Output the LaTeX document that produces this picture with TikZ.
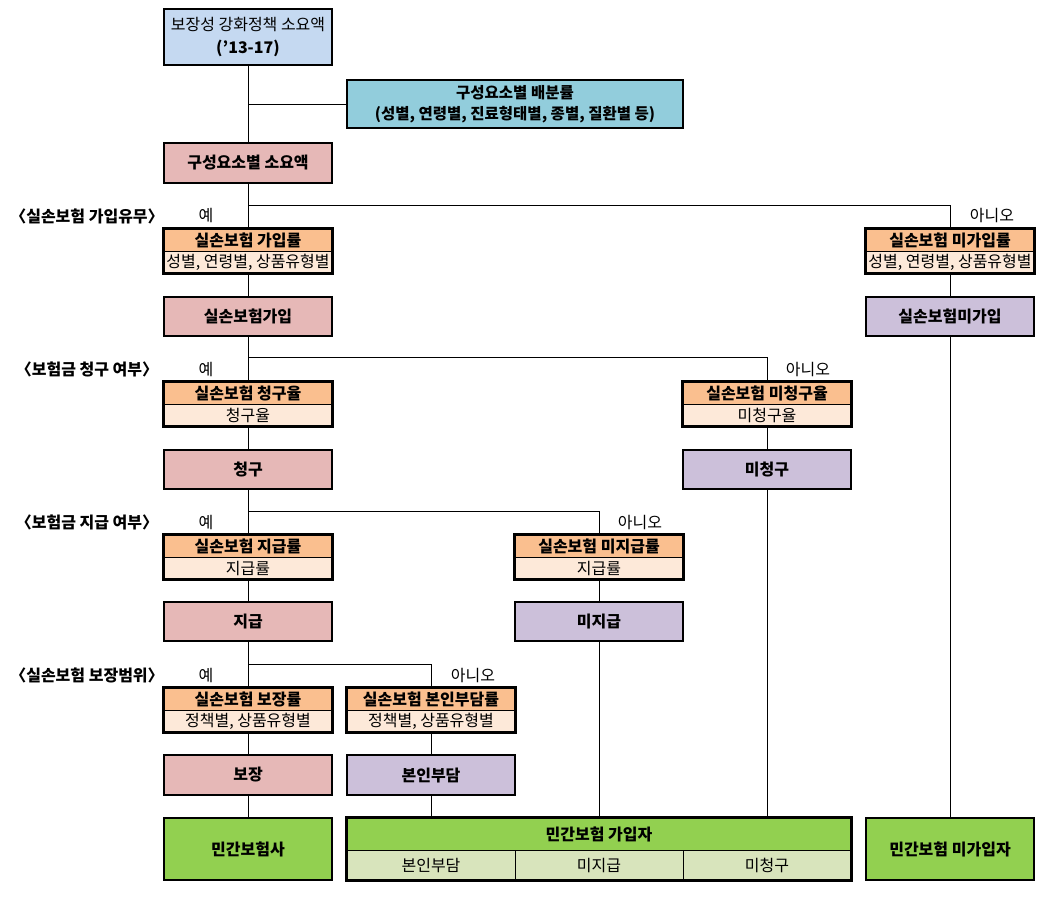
\documentclass[tikz,border=0pt]{standalone}
\usepackage{fontspec}
\setmainfont{Noto Sans CJK KR}
\newcommand\fs{\fontsize{16}{19}\selectfont}
\newcommand\fsa{\fontsize{15.5}{19}\selectfont}
\definecolor{topblue}{HTML}{C5D9F1}
\definecolor{teal}{HTML}{92CDDC}
\definecolor{pinkbox}{HTML}{E6B8B7}
\definecolor{orangeH}{HTML}{FABF8F}
\definecolor{orangeL}{HTML}{FDE9D9}
\definecolor{purplebox}{HTML}{CCC0DA}
\definecolor{greenbox}{HTML}{92D050}
\definecolor{greenL}{HTML}{D8E4BC}
\begin{document}
\begin{tikzpicture}[x=1pt,y=-1pt,
  bx/.style={draw=black, line width=2.5pt, inner sep=0pt, align=center, font=\bfseries\fs, minimum width=168pt, minimum height=39pt},
  hdr/.style={draw=black, line width=0.8pt, fill=orangeH, minimum width=168pt, minimum height=22pt, inner sep=0pt, font=\bfseries\fs},
  bdy/.style={draw=black, line width=0.8pt, fill=orangeL, minimum width=168pt, minimum height=22pt, inner sep=0pt, font=\fs},
  frame/.style={draw=black, line width=2.5pt},
  conn/.style={draw=black, line width=0.9pt},
  qlab/.style={font=\bfseries\fs, inner sep=0pt},
  ylab/.style={font=\fs, inner sep=0pt}]
\useasboundingbox (0,0) rectangle (1046,898);
\fill[white] (0,0) rectangle (1046,898);

% coordinates of branch points
\coordinate (b1) at (248,205);
\coordinate (b2) at (248,357);
\coordinate (b3) at (248,511);
\coordinate (b4) at (248,664);

% top
\node[bx, fill=topblue, minimum height=56pt, font=\fs] (top) at (248,37) {보장성 강화정책 소요액\\[4pt]\textbf{('13-17)}};
\node[bx, fill=teal, minimum width=336pt, minimum height=48pt, font=\bfseries\fsa] (alloc) at (515,104) {구성요소별 배분률\\[2pt](성별, 연령별, 진료형태별, 종별, 질환별 등)};
\node[bx, fill=pinkbox, minimum height=40pt] (comp) at (248,163) {구성요소별 소요액};

% level 1
\node[qlab] (q1) at (87,216) {〈실손보험 가입유무〉};
\node[ylab] (y1) at (206,216) {예};
\node[ylab] (n1) at (992,216) {아니오};
\node[hdr] (r1h) at (248,240) {실손보험 가입률};
\node[bdy] (r1b) at (248,262) {성별, 연령별, 상품유형별};
\draw[frame] (r1h.north west) rectangle (r1b.south east);
\node[hdr] (r1nh) at (950,240) {실손보험 미가입률};
\node[bdy] (r1nb) at (950,262) {성별, 연령별, 상품유형별};
\draw[frame] (r1nh.north west) rectangle (r1nb.south east);
\node[bx, fill=pinkbox] (j1) at (248,316.5) {실손보험가입};
\node[bx, fill=purplebox] (jn) at (950,316.5) {실손보험미가입};

% level 2
\node[qlab] (q2) at (87,369) {〈보험금 청구 여부〉};
\node[ylab] (y2) at (206,369) {예};
\node[ylab] (n2) at (808,369) {아니오};
\node[hdr] (r2h) at (248,393) {실손보험 청구율};
\node[bdy] (r2b) at (248,415) {청구율};
\draw[frame] (r2h.north west) rectangle (r2b.south east);
\node[hdr] (r2nh) at (767,393) {실손보험 미청구율};
\node[bdy] (r2nb) at (767,415) {미청구율};
\draw[frame] (r2nh.north west) rectangle (r2nb.south east);
\node[bx, fill=pinkbox] (c) at (248,469.5) {청구};
\node[bx, fill=purplebox] (cn) at (767,469.5) {미청구};

% level 3
\node[qlab] (q3) at (87,522) {〈보험금 지급 여부〉};
\node[ylab] (y3) at (206,522) {예};
\node[ylab] (n3) at (640,522) {아니오};
\node[hdr] (r3h) at (248,546) {실손보험 지급률};
\node[bdy] (r3b) at (248,568) {지급률};
\draw[frame] (r3h.north west) rectangle (r3b.south east);
\node[hdr] (r3nh) at (599,546) {실손보험 미지급률};
\node[bdy] (r3nb) at (599,568) {지급률};
\draw[frame] (r3nh.north west) rectangle (r3nb.south east);
\node[bx, fill=pinkbox] (p) at (248,621.5) {지급};
\node[bx, fill=purplebox] (pn) at (599,621.5) {미지급};

% level 4
\node[qlab] (q4) at (87,675) {〈실손보험 보장범위〉};
\node[ylab] (y4) at (206,675) {예};
\node[ylab] (n4) at (473,675) {아니오};
\node[hdr] (r4h) at (248,699) {실손보험 보장률};
\node[bdy] (r4b) at (248,721) {정책별, 상품유형별};
\draw[frame] (r4h.north west) rectangle (r4b.south east);
\node[hdr] (r4nh) at (431,699) {실손보험 본인부담률};
\node[bdy] (r4nb) at (431,721) {정책별, 상품유형별};
\draw[frame] (r4nh.north west) rectangle (r4nb.south east);
\node[bx, fill=pinkbox, minimum height=40pt] (g) at (248,775) {보장};
\node[bx, fill=purplebox, minimum height=40pt] (gn) at (431,775) {본인부담};

% bottom
\node[bx, fill=greenbox, minimum height=62pt] (ins) at (248,849) {민간보험사};
\node[draw=black, line width=0.8pt, fill=greenbox, minimum width=504pt, minimum height=32pt, inner sep=0pt, font=\bfseries\fs] (memh) at (599,834) {민간보험 가입자};
\node[draw=black, line width=0.8pt, fill=greenL, minimum width=168pt, minimum height=30pt, inner sep=0pt, font=\fs] (m1) at (431,865) {본인부담};
\node[draw=black, line width=0.8pt, fill=greenL, minimum width=168pt, minimum height=30pt, inner sep=0pt, font=\fs] (m2) at (599,865) {미지급};
\node[draw=black, line width=0.8pt, fill=greenL, minimum width=168pt, minimum height=30pt, inner sep=0pt, font=\fs] (m3) at (767,865) {미청구};
\draw[frame] (memh.north west) rectangle (m3.south east);
\node[bx, fill=greenbox, minimum height=62pt] (non) at (950,849) {민간보험 미가입자};

% connectors
\draw[conn] (top) -- (comp);
\draw[conn] (top.south |- alloc.west) -- (alloc.west);
\draw[conn] (comp) -- (r1h);
\draw[conn] (b1) -| (r1nh.north);
\draw[conn] (r1b) -- (j1);
\draw[conn] (r1nb) -- (jn);
\draw[conn] (j1) -- (r2h);
\draw[conn] (b2) -| (r2nh.north);
\draw[conn] (r2b) -- (c);
\draw[conn] (r2nb) -- (cn);
\draw[conn] (c) -- (r3h);
\draw[conn] (b3) -| (r3nh.north);
\draw[conn] (r3b) -- (p);
\draw[conn] (r3nb) -- (pn);
\draw[conn] (p) -- (r4h);
\draw[conn] (b4) -| (r4nh.north);
\draw[conn] (r4b) -- (g);
\draw[conn] (r4nb) -- (gn);
\draw[conn] (g) -- (ins);
\draw[conn] (gn.south) -- (gn.south |- memh.north);
\draw[conn] (pn.south) -- (pn.south |- memh.north);
\draw[conn] (cn.south) -- (cn.south |- memh.north);
\draw[conn] (jn) -- (non);
\end{tikzpicture}
\end{document}
